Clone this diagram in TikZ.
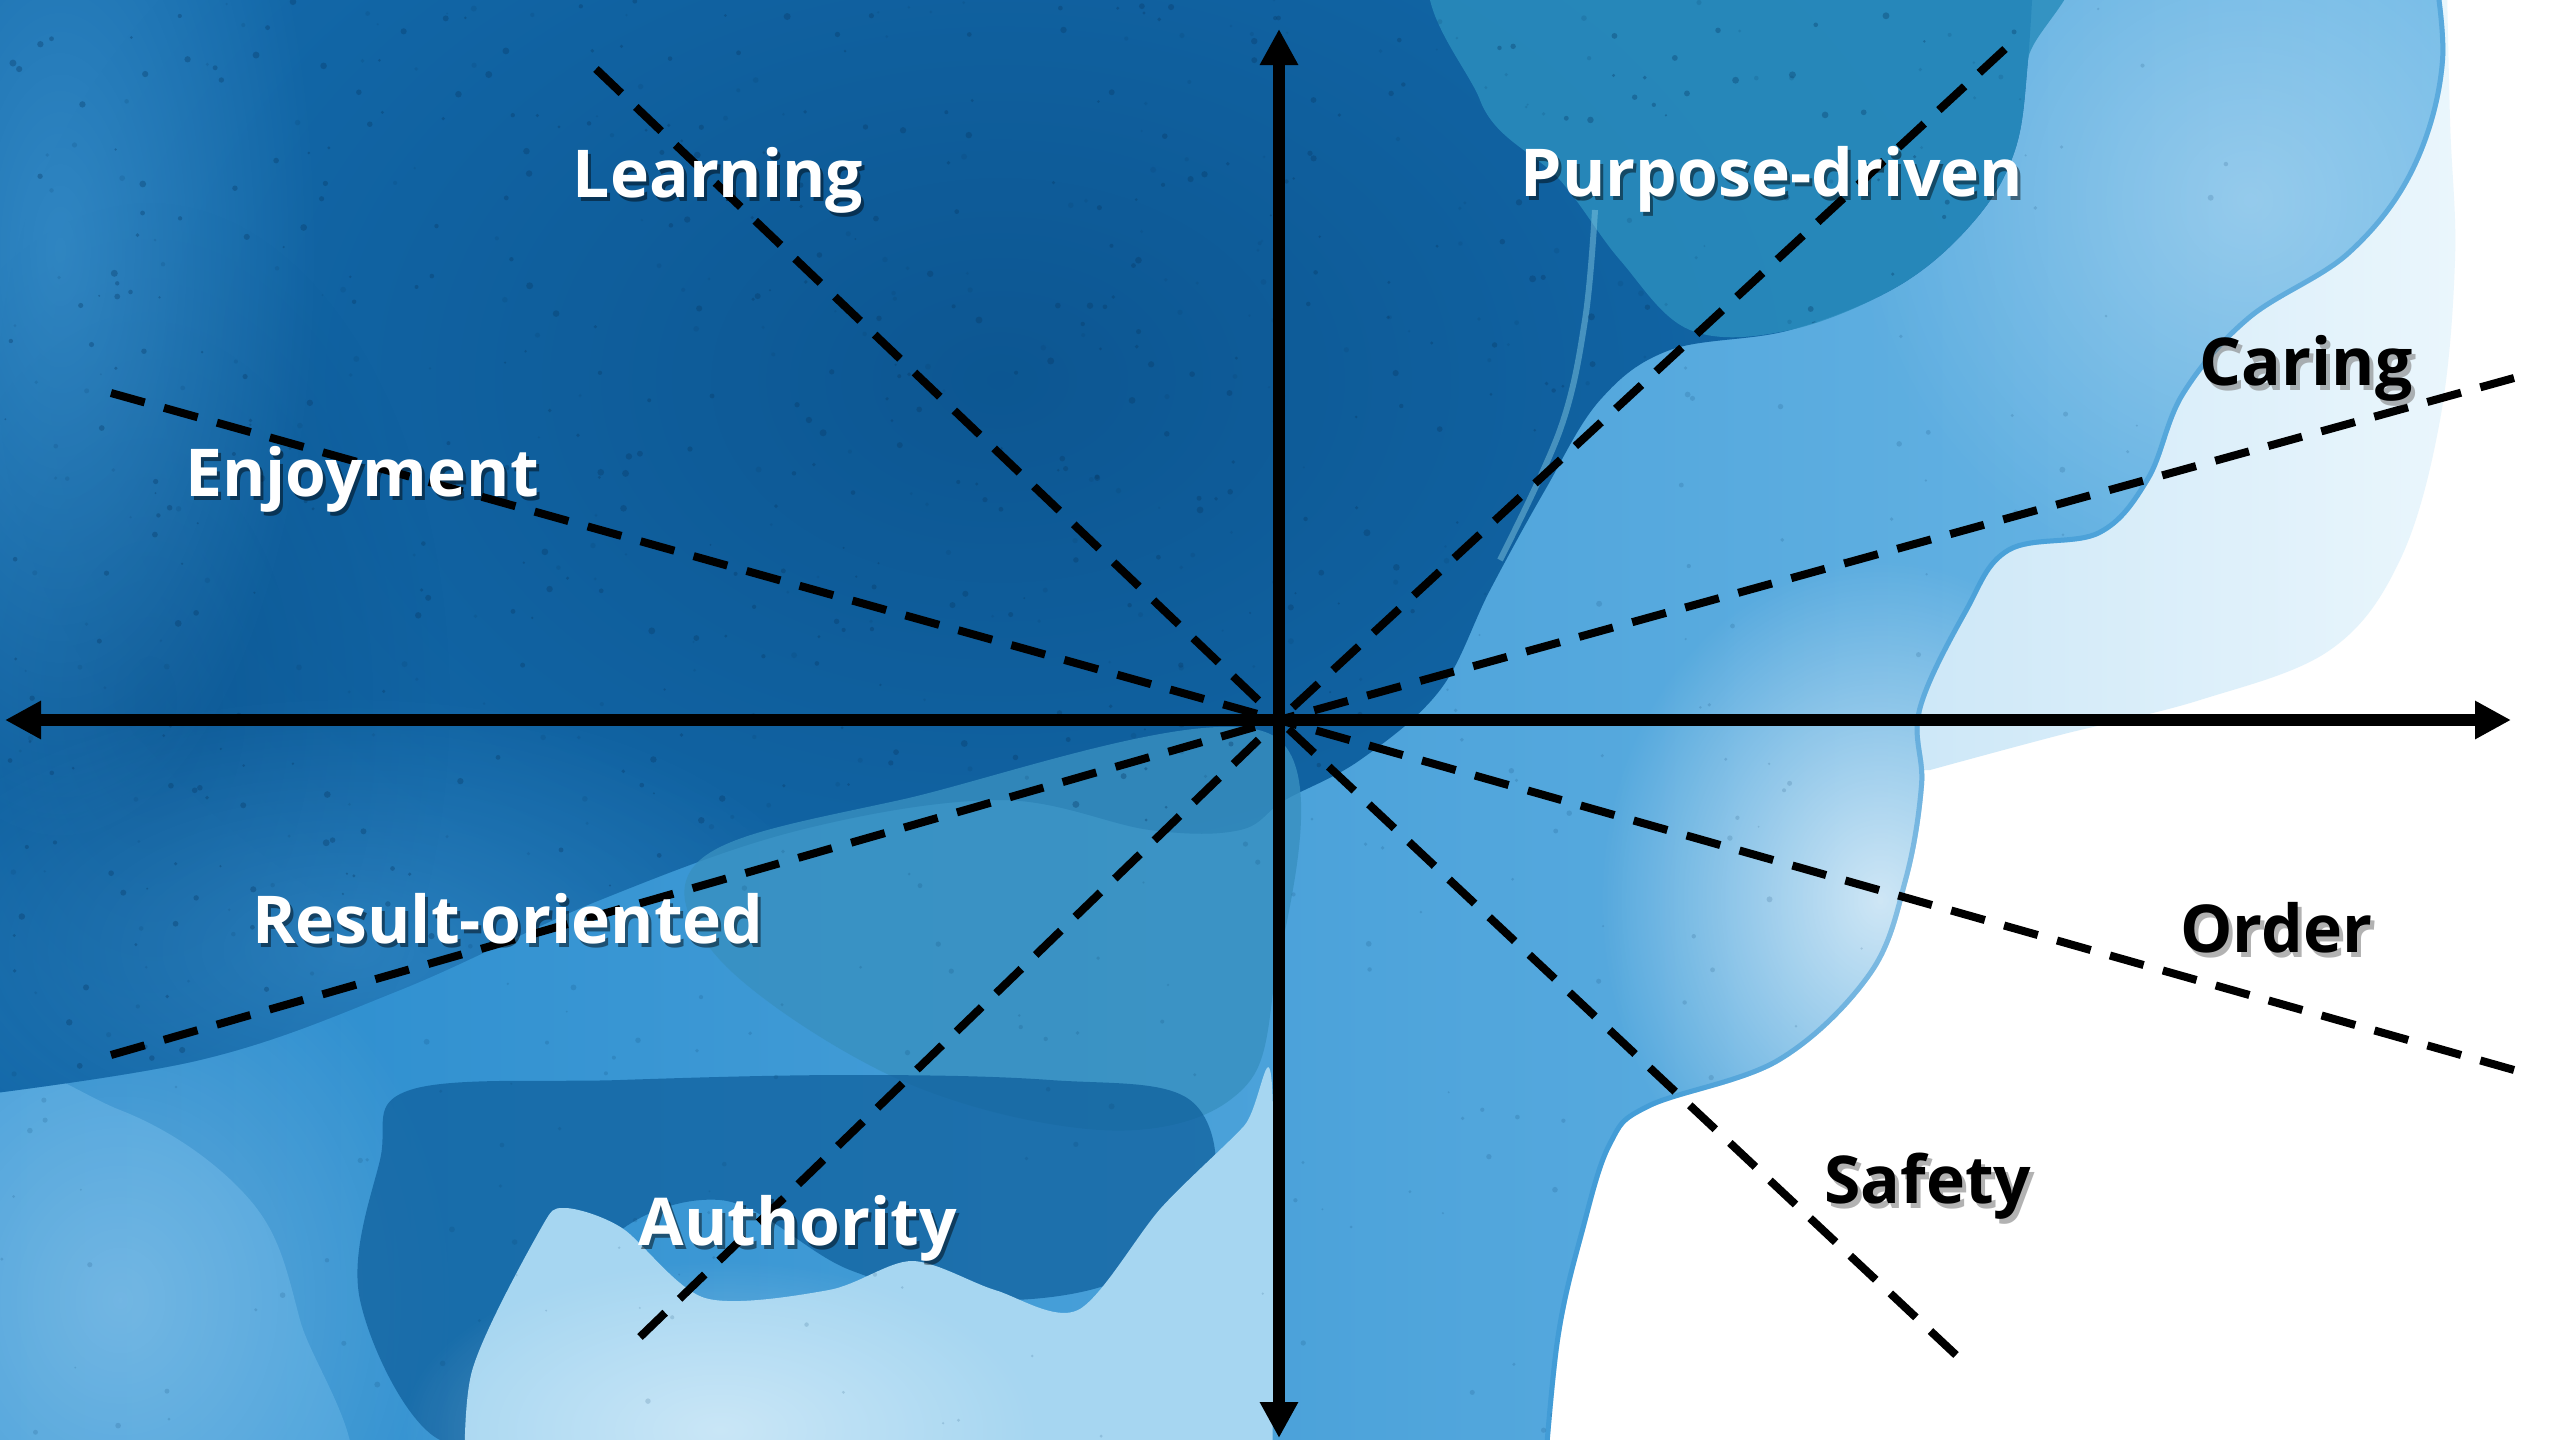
\documentclass[tikz,border=0pt]{standalone}
\usepackage{fontspec}
\setmainfont{Open Sans}
\usetikzlibrary{arrows.meta,fadings}

\tikzfading[name=softblob, inner color=transparent!0, outer color=transparent!100]

\definecolor{deepblue}{HTML}{1369AA}
\definecolor{darkink}{HTML}{0A4F88}
\definecolor{midleft}{HTML}{2589CC}
\definecolor{midright}{HTML}{6DB8E6}
\definecolor{paleleft}{HTML}{9DCFF0}
\definecolor{paleright}{HTML}{EAF6FC}
\definecolor{washteal}{HTML}{2A8DBD}
\definecolor{lowteal}{HTML}{3890C0}
\definecolor{pooldark}{HTML}{0D5D9A}
\definecolor{speck}{HTML}{083A66}
\definecolor{paleblue}{HTML}{A6D6F1}
\definecolor{lightwash}{HTML}{55ABE2}
\definecolor{streak}{HTML}{7CC3DE}
\definecolor{rim}{HTML}{2F8FCF}

% outline of the main wash
\newcommand\washregion{(-60,-60) -- (2432,-60) -- plot[smooth, tension=0.6] coordinates {
  (2432,-60) (2445,60) (2415,170) (2350,255) (2250,320) (2185,395) (2150,480)
  (2100,535) (2010,552) (1968,612) (1922,710) (1924,785) (1908,880) (1872,975)
  (1780,1062) (1650,1108) (1612,1145) (1585,1230) (1560,1340) (1545,1500)}
  -- (-60,1500) -- cycle}

% right-hand edge of the main wash, for its dried rim
\newcommand\washedge{plot[smooth, tension=0.6] coordinates {
  (2432,-60) (2445,60) (2415,170) (2350,255) (2250,320) (2185,395) (2150,480)
  (2100,535) (2010,552) (1968,612) (1922,710) (1924,785) (1908,880) (1872,975)
  (1780,1062) (1650,1108) (1612,1145) (1585,1230) (1560,1340) (1545,1500)}}

% outline of the deep blue pool
\newcommand\deepregion{(-60,-60) -- (2035,-60) -- plot[smooth, tension=0.6] coordinates {
  (2035,-60) (2028,60) (2015,150) (1975,220) (1900,285) (1790,330) (1670,350)
  (1600,400) (1545,490) (1490,590) (1440,690) (1360,760) (1285,800) (1240,830)
  (1150,830) (1000,800) (800,830) (600,900) (400,990) (200,1060) (-60,1100)}
  -- cycle}

\begin{document}
\begin{tikzpicture}[x=1pt,y=-1pt,
  dline/.style={line width=8pt, dash pattern=on 35pt off 20pt},
  axisline/.style={line width=12pt,
    {Triangle[length=36pt,width=36pt]}-{Triangle[length=36pt,width=36pt]}},
  lab/.style={font=\fontsize{66}{70}\selectfont\bfseries, anchor=base, inner sep=0pt},
  wlab/.style={lab, text=white},
  blab/.style={lab, text=black},
  wshadow/.style={lab, text=black, opacity=0.45},
  bshadow/.style={lab, text=black!50, opacity=0.6}
]
\useasboundingbox (0,0) rectangle (2560,1440);
\fill[white] (0,0) rectangle (2560,1440);

% pale outer wash on the right
\shade[left color=paleleft, right color=paleright]
  (1000,-60) -- (2446,-60) -- plot[smooth, tension=0.6] coordinates {
  (2446,-60) (2450,120) (2455,260) (2440,420) (2400,560) (2330,650) (2200,700)
  (2060,735) (1930,770)} -- (1000,770) -- cycle;

% main wash
\shade[left color=midleft, right color=midright] \washregion;
\begin{scope}
  \clip \washregion;
  \fill[white, opacity=0.7, path fading=softblob]
    (1880,900) ellipse [x radius=280pt, y radius=340pt];
  \fill[white, opacity=0.3, path fading=softblob]
    (2250,200) ellipse [x radius=400pt, y radius=400pt];
  % lighter diagonal band at the lower left
  \fill[lightwash, opacity=0.6] plot[smooth cycle, tension=0.6] coordinates {
    (-60,1080) (120,1110) (250,1200) (300,1320) (330,1500) (-60,1500)};
  \fill[white, opacity=0.25, path fading=softblob]
    (120,1300) ellipse [x radius=340pt, y radius=400pt];
  % darker rim where the wash dried
  \draw[rim, line width=10pt, opacity=0.45] \washedge;
\end{scope}

% deep blue pool
\fill[deepblue] \deepregion;
\begin{scope}
  \clip \deepregion;
  \fill[darkink, opacity=0.7, path fading=softblob]
    (1000,380) ellipse [x radius=1000pt, y radius=700pt];
  \fill[darkink, opacity=0.55, path fading=softblob]
    (150,700) ellipse [x radius=300pt, y radius=500pt];
  \fill[lightwash, opacity=0.45, path fading=softblob]
    (60,250) ellipse [x radius=260pt, y radius=600pt];
  \fill[lightwash, opacity=0.35, path fading=softblob]
    (350,950) ellipse [x radius=500pt, y radius=260pt];
\end{scope}

% teal wash in the upper right
\fill[washteal, opacity=0.85] plot[smooth cycle, tension=0.6] coordinates {
  (1470,-60) (2035,-60) (2028,60) (2015,150) (1975,220) (1900,285) (1790,330)
  (1690,330) (1620,260) (1560,180) (1480,100)};
\draw[streak, line width=6pt, opacity=0.5] plot[smooth, tension=0.6] coordinates {
  (1595,210) (1585,320) (1560,430) (1500,560)};

% teal wash below the centre
\fill[lowteal, opacity=0.8] plot[smooth cycle, tension=0.6] coordinates {
  (700,860) (900,800) (1272,735) (1272,1000) (1230,1100) (1100,1130)
  (900,1080) (720,960)};

% dark pool around the bottom
\fill[pooldark, opacity=0.7] plot[smooth cycle, tension=0.6] coordinates {
  (410,1090) (620,1080) (850,1075) (1050,1080) (1190,1100) (1210,1200)
  (1120,1280) (980,1300) (850,1270) (720,1200) (600,1250) (560,1400) (440,1440)
  (360,1300) (380,1160)};

% pale bottom edge
\fill[paleblue] plot[smooth, tension=0.5] coordinates {
  (465,1500) (472,1371) (540,1230) (564,1208) (622,1228) (705,1298) (829,1290)
  (912,1261) (995,1290) (1078,1310) (1161,1208) (1244,1126) (1272,1085) (1272,1500)};
\fill[white, opacity=0.4, path fading=softblob]
  (720,1430) ellipse [x radius=320pt, y radius=170pt];

% grain of the paper
\begin{scope}
  \clip \washregion;
  \pgfmathsetseed{11}
  \foreach \k in {1,...,500}{
    \pgfmathsetmacro\px{rnd*2300}
    \pgfmathsetmacro\py{rnd*1440}
    \pgfmathsetmacro\pr{1+rnd*2}
    \fill[speck, opacity=0.15] (\px,\py) circle[radius=\pr pt];
  }
\end{scope}
\begin{scope}
  \clip \deepregion;
  \pgfmathsetseed{42}
  \foreach \k in {1,...,700}{
    \pgfmathsetmacro\px{rnd*2100}
    \pgfmathsetmacro\py{rnd*1100}
    \pgfmathsetmacro\pr{1+rnd*2.5}
    \fill[speck, opacity=0.35] (\px,\py) circle[radius=\pr pt];
  }
\end{scope}

% centre and line ends
\coordinate (O) at (1279,720);
\coordinate (eL) at (596,69);
\coordinate (eS) at (1956,1355);
\coordinate (eP) at (2005,49);
\coordinate (eA) at (640,1337);
\coordinate (eC) at (2514,378);
\coordinate (eR) at (111,1055);
\coordinate (eE) at (111,393);
\coordinate (eO) at (2514,1070);

\draw[dline] (eL) -- (O);
\draw[dline] (eS) -- (O);
\draw[dline] (eP) -- (O);
\draw[dline] (eA) -- (O);
\draw[dline] (eC) -- (O);
\draw[dline] (eR) -- (O);
\draw[dline] (eE) -- (O);
\draw[dline] (eO) -- (O);

% axes
\coordinate (xl) at (5,720);
\coordinate (xr) at (2511,720);
\coordinate (yt) at (1279,29);
\coordinate (yb) at (1279,1438);
\draw[axisline] (xl) -- (xr);
\draw[axisline] (yb) -- (yt);

% labels
\node[wshadow] (learning-s) at (721,201) {Learning};
\node[wlab] (learning) at (718,197) {Learning};
\node[wshadow] (purpose-s) at (1775,200) {Purpose-driven};
\node[wlab] (purpose) at (1772,196) {Purpose-driven};
\node[wshadow] (enjoy-s) at (365,500) {Enjoyment};
\node[wlab] (enjoy) at (362,496) {Enjoyment};
\node[wshadow] (result-s) at (511,947) {Result-oriented};
\node[wlab] (result) at (508,943) {Result-oriented};
\node[wshadow] (authority-s) at (801,1249) {Authority};
\node[wlab] (authority) at (798,1245) {Authority};

\node[bshadow] (caring-s) at (2310,390) {Caring};
\node[blab] (caring) at (2306,385) {Caring};
\node[bshadow] (order-s) at (2280,957) {Order};
\node[blab] (order) at (2276,952) {Order};
\node[bshadow] (safety-s) at (1932,1208) {Safety};
\node[blab] (safety) at (1928,1203) {Safety};
\end{tikzpicture}
\end{document}
